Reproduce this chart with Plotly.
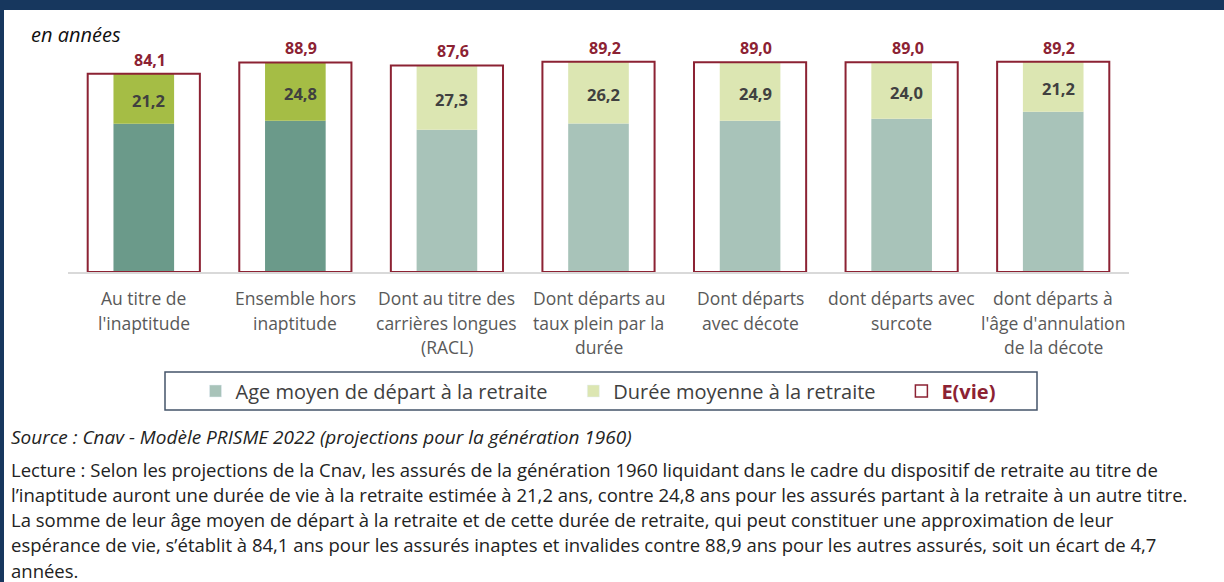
import plotly.graph_objects as go

categories = [
    "Au titre de<br>l'inaptitude",
    "Ensemble hors<br>inaptitude",
    "Dont au titre des<br>carrières longues<br>(RACL)",
    "Dont départs au<br>taux plein par la<br>durée",
    "Dont départs<br>avec décote",
    "dont départs avec<br>surcote",
    "dont départs à<br>l'âge d'annulation<br>de la décote",
]
evie = [84.1, 88.9, 87.6, 89.2, 89.0, 89.0, 89.2]
duree = [21.2, 24.8, 27.3, 26.2, 24.9, 24.0, 21.2]
age = [round(e - d, 1) for e, d in zip(evie, duree)]

age_colors = ["#6B9A8A", "#6B9A8A"] + ["#A8C3B9"] * 5
dur_colors = ["#A5BD45", "#A5BD45"] + ["#DCE6B2"] * 5
leg_age = "#A8C3B9"
leg_dur = "#DCE6B2"
red = "#8C2233"
navy = "#17375E"
txt = "#404040"
FONT = "Open Sans"

x = list(range(len(categories)))

W, H = 1224, 582
L, R, T, B = 68, 1129, 48, 272


def px(xp):
    return (xp - L) / (R - L)


def py(yp):
    return (B - yp) / (B - T)


fig = go.Figure()
fig.add_trace(go.Bar(x=x, y=age, width=0.4, marker=dict(color=age_colors, line=dict(width=0)),
                     name="Age moyen de départ à la retraite", hoverinfo="skip", showlegend=False))
fig.add_trace(go.Bar(x=x, y=duree, base=age, width=0.4, marker=dict(color=dur_colors, line=dict(width=0)),
                     name="Durée moyenne à la retraite", hoverinfo="skip", showlegend=False))
fig.add_trace(go.Bar(x=x, y=evie, width=0.74,
                     marker=dict(color="rgba(0,0,0,0)", line=dict(color=red, width=2)),
                     name="E(vie)", hoverinfo="skip", showlegend=False))

# legend proxies
gap = "&nbsp;" * 4
fig.add_trace(go.Bar(x=[None], y=[None], marker=dict(color=leg_age), name="Age moyen de départ à la retraite" + gap))
fig.add_trace(go.Bar(x=[None], y=[None], marker=dict(color=leg_dur), name="Durée moyenne à la retraite" + gap))
fig.add_trace(go.Bar(x=[None], y=[None], marker=dict(color="rgba(0,0,0,0)", line=dict(color=red, width=1.5)),
                     name=f"<span style='color:{red}'><b>E(vie)</b></span>"))

ann = []
for i in x:
    ann.append(dict(x=i, y=age[i] + duree[i] / 2, xref="x", yref="y",
                    text=f"<b>{duree[i]:.1f}</b>".replace('.', ','),
                    showarrow=False, xshift=5, yshift=-2, font=dict(family=FONT, size=16.5, color=txt)))
    ann.append(dict(x=i, y=evie[i], xref="x", yref="y", text=f"<b>{evie[i]:.1f}</b>".replace('.', ','),
                    showarrow=False, xshift=6, yanchor="bottom", yshift=1,
                    font=dict(family=FONT, size=16, color=red)))
    for k, line in enumerate(categories[i].split("<br>")):
        ann.append(dict(x=i, y=0, xref="x", yref="paper", text=line, showarrow=False,
                        yanchor="middle", yshift=-26 - 24.5 * k,
                        font=dict(family=FONT, size=17.5, color="#595959")))

ann.append(dict(x=px(29), y=py(34), xref="paper", yref="paper", xanchor="left", yanchor="middle",
                text="<i>en années</i>", showarrow=False, font=dict(family=FONT, size=20, color="#111111")))

ann.append(dict(x=px(9), y=py(437), xref="paper", yref="paper", xanchor="left", yanchor="middle",
                text="<i>Source : Cnav - Modèle PRISME 2022 (projections pour la génération 1960)</i>",
                showarrow=False, font=dict(family=FONT, size=19, color="#222222")))

lecture = [
    "Lecture : Selon les projections de la Cnav, les assurés de la génération 1960 liquidant dans le cadre du dispositif de retraite au titre de",
    "l’inaptitude auront une durée de vie à la retraite estimée à 21,2 ans, contre 24,8 ans pour les assurés partant à la retraite à un autre titre.",
    "La somme de leur âge moyen de départ à la retraite et de cette durée de retraite, qui peut constituer une approximation de leur",
    "espérance de vie, s’établit à 84,1 ans pour les assurés inaptes et invalides contre 88,9 ans pour les autres assurés, soit un écart de 4,7",
    "années.",
]
for k, line in enumerate(lecture):
    ann.append(dict(x=px(9), y=py(469 + 25.3 * k), xref="paper", yref="paper", xanchor="left", yanchor="middle",
                    text=line, showarrow=False, font=dict(family=FONT, size=18.5, color="#222222")))

shapes = [
    # navy frame
    dict(type="rect", xref="paper", yref="paper", x0=px(0), x1=px(1224), y0=py(0), y1=py(10),
         fillcolor=navy, line=dict(width=0), layer="above"),
    dict(type="rect", xref="paper", yref="paper", x0=px(0), x1=px(4), y0=py(0), y1=py(582),
         fillcolor=navy, line=dict(width=0), layer="above"),
    # legend frame
    dict(type="rect", xref="paper", yref="paper", x0=px(165), x1=px(1037), y0=py(372), y1=py(410),
         fillcolor="rgba(0,0,0,0)", line=dict(color="#44546A", width=1.5)),
]

fig.update_layout(
    width=W, height=H,
    margin=dict(l=L, r=W - R, t=T, b=H - B),
    paper_bgcolor="white", plot_bgcolor="white",
    barmode="overlay",
    font=dict(family=FONT, color=txt),
    xaxis=dict(range=[-0.5, 6.5], showticklabels=False, showgrid=False, zeroline=False,
               showline=True, linecolor="#D9D9D9", linewidth=2, fixedrange=True),
    yaxis=dict(range=[0, 95], visible=False, fixedrange=True),
    showlegend=True,
    legend=dict(orientation="h", x=px(598), y=py(391), xanchor="center", yanchor="middle",
                bgcolor="rgba(0,0,0,0)", font=dict(family=FONT, size=20, color=txt),
                itemclick=False, itemdoubleclick=False, traceorder="normal", itemwidth=30),
    annotations=ann,
    shapes=shapes,
)

fig.write_html("out.html", config={"displayModeBar": False},
               post_script="document.body.style.margin='0';document.body.style.overflow='hidden';")
